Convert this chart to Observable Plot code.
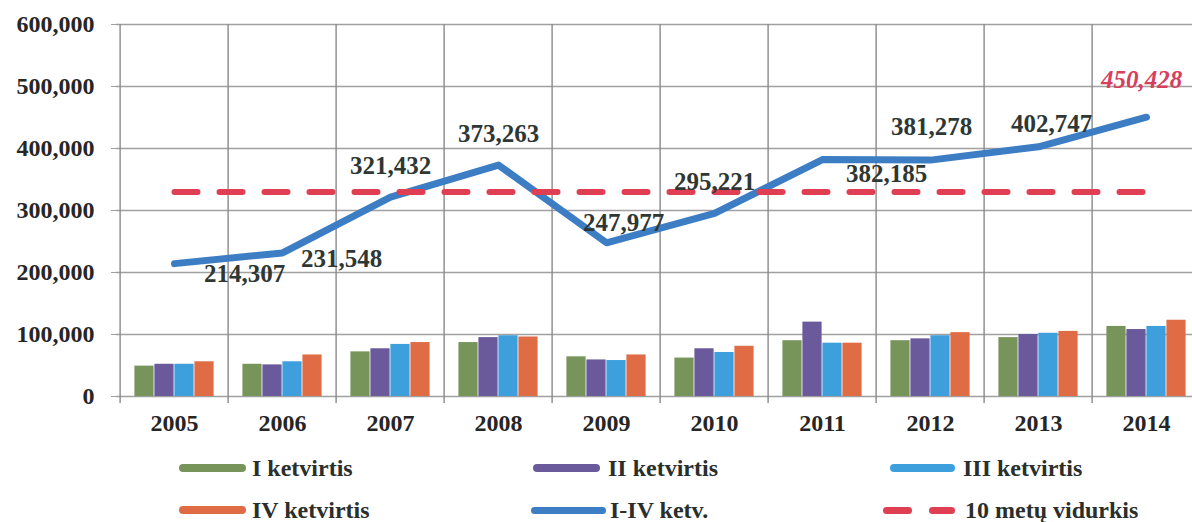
<!DOCTYPE html>
<html><head><meta charset="utf-8">
<script src="https://cdn.jsdelivr.net/npm/d3@7"></script>
<script src="https://cdn.jsdelivr.net/npm/@observablehq/plot@0.6"></script>
<style>
body{margin:0;background:#fff;width:1192px;height:522px;overflow:hidden;font-family:"Liberation Serif",serif;}
#chart svg{overflow:hidden;}
#legend{position:relative;height:82px;}
.item{position:absolute;display:flex;align-items:center;font-weight:bold;font-size:24px;color:#2a2f2c;white-space:nowrap;line-height:1;}
.sw{display:inline-block;height:8px;border-radius:4px;}
</style></head><body>
<div id="chart"></div><div id="legend"></div>
<script>
const years = ["2005","2006","2007","2008","2009","2010","2011","2012","2013","2014"];
const q1 = [49000, 52000, 72000, 87000, 64000, 62000, 90000, 90000, 95000, 113000];
const q2 = [52000, 51000, 77000, 95000, 59000, 77000, 120000, 93000, 100000, 108000];
const q3 = [52000, 56000, 84000, 98000, 58000, 71000, 86000, 98000, 102000, 113000];
const q4 = [56000, 67000, 87000, 96000, 67000, 81000, 86000, 103000, 105000, 123000];
const totals = [214307, 231548, 321432, 373263, 247977, 295221, 382185, 381278, 402747, 450428];
const yTicks = [0, 100000, 200000, 300000, 400000, 500000, 600000];
const seriesNames = ["I ketvirtis", "II ketvirtis", "III ketvirtis", "IV ketvirtis", "I-IV ketv.", "10 metų vidurkis"];

const barColors = ["#77955a", "#6a5a9b", "#3d9fdc", "#e06c45"];
const lineColor = "#3c7dc3";
const avgColor = "#e03e52";
const avg = d3.mean(totals);
const quarters = [q1, q2, q3, q4];
const fmt = d3.format(",");

const rows = years.map((y, i) => ({year: y, total: totals[i]}));

const bandW = (1204 - 116) / years.length;
const barW = 20;

const barMarks = quarters.map((q, k) => Plot.barY(years.map((y, i) => ({year: y, v: q[i]})), {
  x: "year", y: "v", fill: barColors[k],
  insetLeft: (bandW - barW) / 2, insetRight: (bandW - barW) / 2,
  dx: (k - 1.5) * barW
}));

const txt = {fontFamily: "Liberation Serif", fontWeight: "bold", fontSize: 25, fill: "#2e3733"};
function label(ys, dx, dy, extra = {}) {
  return Plot.text(rows.filter(r => ys.includes(r.year)), {
    x: "year", y: "total", text: d => fmt(d.total), dx, dy, ...txt, ...extra
  });
}

const chart = Plot.plot({
  width: 1192, height: 440,
  marginLeft: 116, marginRight: 0, marginTop: 24, marginBottom: 44,
  style: {background: "#fff"},
  x: {type: "band", domain: years, range: [116, 1204], padding: 0},
  y: {domain: [0, 600000]},
  marks: [
    Plot.gridY(yTicks, {stroke: "#a0a0a0", strokeOpacity: 1, strokeWidth: 1.4}),
    Plot.ruleX(years, {x: d => d, dx: -bandW / 2, stroke: "#8a8a8a", strokeWidth: 1.4, insetBottom: -7}),
    Plot.axisY(yTicks, {tickFormat: fmt, tickSize: 5, tickPadding: 17, stroke: "#a0a0a0",
      fontFamily: "Liberation Serif", fontWeight: "bold", fontSize: 24, fill: "#262626", label: null}),
    Plot.axisX({tickSize: 0, tickPadding: 17, fontFamily: "Liberation Serif", fontWeight: "bold",
      fontSize: 24, fill: "#262626", label: null}),
    ...barMarks,
    Plot.line(rows, {x: "year", y: "total", stroke: lineColor, strokeWidth: 7, strokeLinecap: "round", strokeLinejoin: "round"}),
    Plot.line(rows, {x: "year", y: () => avg, stroke: avgColor, strokeWidth: 6, strokeDasharray: "23,22"}),
    label(["2005"], 70, 10),
    label(["2006"], 59, 6),
    label(["2011"], 64, 14),
    label(["2007", "2008", "2010"], 0, -31),
    label(["2012"], 1, -33),
    label(["2009"], 17, -20),
    label(["2013"], 13, -23),
    label(["2014"], -5, -37, {fill: "#d6405e", fontStyle: "italic"})
  ]
});
document.getElementById("chart").appendChild(chart);

// legend
const legend = document.getElementById("legend");
const items = [
  {name: seriesNames[0], left: 179, top: 28, sw: `<span class="sw" style="width:67px;background:${barColors[0]}"></span>`, gap: 6},
  {name: seriesNames[1], left: 533, top: 28, sw: `<span class="sw" style="width:67px;background:${barColors[1]}"></span>`, gap: 8},
  {name: seriesNames[2], left: 890, top: 28, sw: `<span class="sw" style="width:65px;background:${barColors[2]}"></span>`, gap: 8},
  {name: seriesNames[3], left: 179, top: 70, sw: `<span class="sw" style="width:67px;background:${barColors[3]}"></span>`, gap: 6},
  {name: seriesNames[4], left: 531, top: 70, sw: `<span class="sw" style="width:75px;height:7px;background:${lineColor}"></span>`, gap: 4},
  {name: seriesNames[5], left: 883, top: 70, sw: `<span style="display:inline-flex;gap:17px"><span class="sw" style="width:29px;height:7px;background:${avgColor}"></span><span class="sw" style="width:26px;height:7px;background:${avgColor}"></span></span>`, gap: 10}
];
for (const it of items) {
  const d = document.createElement("div");
  d.className = "item";
  d.style.left = it.left + "px";
  d.style.top = (it.top - 12) + "px";
  d.style.height = "24px";
  d.innerHTML = it.sw + `<span style="margin-left:${it.gap}px">${it.name}</span>`;
  legend.appendChild(d);
}
</script>
</body></html>
